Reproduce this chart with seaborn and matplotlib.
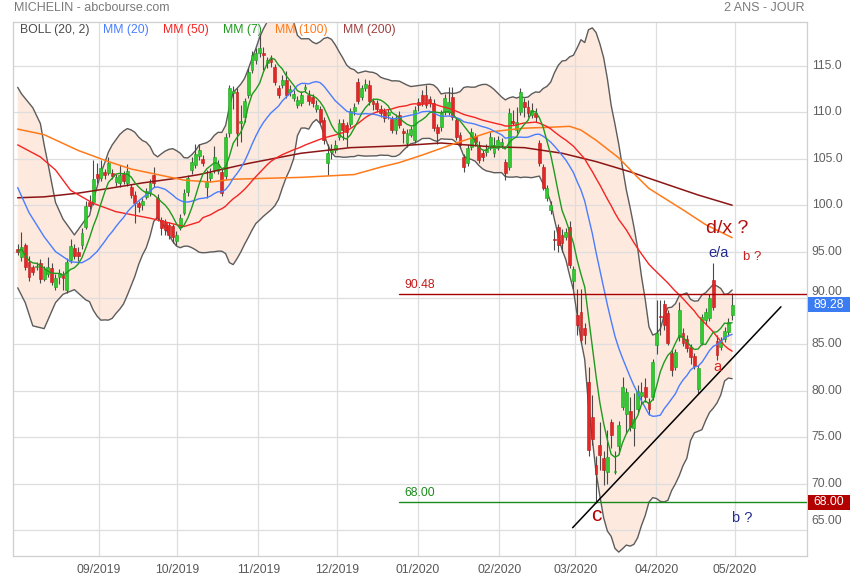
import numpy as np
import pandas as pd
import matplotlib
matplotlib.use("Agg")
import matplotlib.pyplot as plt
import matplotlib.transforms as mtransforms
from matplotlib.patches import Rectangle
import seaborn as sns

# Cours journaliers MICHELIN du 01/08/2019 au 30/04/2020
ouverture = [95.3, 94.4, 95.7, 93.9, 93.3, 93.3, 93.8, 92.1, 92.6, 93.2,
             91.2, 92.3, 92.5, 90.9, 94.1, 95.4, 95.0, 95.7, 97.7, 100.3,
             100.3, 103.4, 102.9, 103.6, 103.5, 103.5, 102.5, 102.4, 103.4, 102.4,
             102.0, 101.1, 100.2, 100.0, 100.9, 101.3, 103.3, 100.8, 98.4, 98.2,
             97.9, 97.8, 96.1, 97.6, 99.2, 101.4, 103.8, 104.3, 105.3, 105.0,
             102.0, 102.9, 103.8, 103.7, 103.6, 103.1, 107.8, 112.1, 112.2, 108.9,
             109.5, 111.9, 114.6, 115.6, 116.4, 116.4, 115.3, 115.8, 114.9, 112.6,
             113.0, 113.5, 112.2, 111.5, 110.8, 111.0, 112.5, 111.9, 111.7, 110.4,
             110.4, 109.2, 104.5, 105.7, 106.0, 107.4, 108.9, 108.6, 108.8, 110.1,
             113.3, 111.7, 112.6, 113.0, 111.2, 111.0, 110.4, 110.1, 109.7, 109.3,
             108.1, 109.7, 108.0, 106.7, 107.6, 107.0, 111.1, 111.9, 111.9, 111.4,
             111.0, 108.4, 108.4, 110.0, 110.0, 111.7, 109.2, 107.6, 105.2, 104.6,
             106.3, 107.5, 106.5, 105.6, 105.7, 106.2, 105.6, 106.2, 106.5, 104.7,
             104.1, 109.1, 108.1, 110.0, 111.1, 110.6, 109.7, 109.9, 106.7, 104.1,
             100.8, 99.5, 96.4, 97.7, 96.8, 96.6, 97.7, 91.8, 88.2, 88.5,
             86.8, 81.0, 77.2, 72.0, 74.2, 72.8, 71.3, 76.6, 71.2, 74.0,
             78.3, 77.5, 77.8, 76.0, 78.0, 79.4, 80.4, 78.8, 79.3, 84.9,
             88.1, 89.4, 88.4, 84.1, 82.6, 85.8, 86.2, 85.6, 84.7, 83.8,
             80.2, 85.2, 87.6, 87.8, 91.9, 85.4, 84.7, 85.6, 86.3, 88.2]
plus_haut = [95.8, 97.1, 95.9, 94.5, 93.6, 93.9, 94.2, 93.5, 94.4, 93.8,
             92.6, 93.1, 92.9, 94.3, 96.4, 95.8, 95.5, 97.5, 100.4, 101.1,
             104.9, 104.5, 104.9, 103.9, 105.2, 103.9, 103.4, 104.3, 103.7, 104.4,
             102.3, 101.5, 100.5, 100.8, 101.9, 102.8, 104.1, 101.2, 98.7, 98.5,
             98.2, 98.0, 97.2, 99.0, 101.7, 103.3, 105.2, 106.6, 106.6, 105.4,
             103.8, 104.0, 106.4, 104.9, 103.9, 107.8, 113.0, 112.8, 112.6, 110.8,
             111.6, 114.8, 116.6, 116.9, 118.5, 117.0, 116.0, 116.2, 115.2, 113.0,
             114.0, 114.5, 112.9, 112.4, 111.8, 112.3, 113.1, 112.4, 112.0, 111.3,
             110.7, 109.5, 106.6, 106.6, 107.0, 109.3, 109.3, 109.0, 110.5, 111.0,
             113.7, 113.0, 113.6, 113.5, 111.5, 111.3, 110.8, 110.5, 110.4, 109.6,
             109.8, 110.1, 108.3, 108.2, 108.5, 110.7, 111.5, 112.4, 113.0, 111.8,
             111.4, 108.7, 110.3, 112.0, 112.7, 112.7, 109.5, 107.9, 105.5, 106.6,
             108.3, 107.8, 106.9, 106.0, 106.6, 107.9, 107.3, 107.5, 107.2, 105.0,
             110.5, 110.3, 110.6, 112.6, 111.5, 111.3, 111.0, 110.5, 107.0, 104.4,
             102.2, 100.5, 97.3, 98.0, 97.4, 97.5, 98.3, 93.5, 91.0, 91.0,
             87.3, 82.6, 79.5, 73.0, 76.6, 73.5, 75.8, 77.0, 73.5, 76.7,
             81.5, 80.3, 79.3, 79.8, 80.6, 80.9, 81.4, 79.2, 83.4, 89.8,
             89.8, 89.8, 88.7, 84.4, 84.5, 89.6, 86.8, 86.0, 85.0, 84.1,
             82.8, 88.3, 88.9, 90.4, 93.8, 86.0, 85.8, 86.9, 87.8, 90.5]
plus_bas = [94.6, 94.0, 93.0, 91.8, 92.5, 93.0, 91.6, 91.8, 92.3, 91.4,
            90.9, 91.5, 90.9, 90.5, 93.8, 94.2, 94.0, 95.3, 97.4, 99.6,
            100.0, 102.4, 102.6, 102.8, 103.2, 102.8, 102.1, 102.0, 102.3, 102.1,
            100.8, 98.1, 99.3, 99.5, 100.7, 101.0, 102.0, 98.3, 96.8, 96.8,
            96.4, 95.9, 95.7, 97.3, 98.9, 101.0, 103.4, 104.0, 104.9, 104.2,
            100.8, 102.5, 103.5, 103.4, 101.0, 102.8, 107.4, 110.4, 106.4, 106.8,
            109.0, 111.5, 114.2, 115.2, 116.0, 114.6, 114.8, 114.9, 112.9, 111.5,
            112.6, 111.5, 111.8, 111.2, 110.5, 110.7, 112.2, 110.8, 110.6, 110.0,
            108.7, 106.6, 103.3, 105.0, 105.6, 107.0, 107.0, 106.3, 108.4, 109.7,
            110.9, 111.3, 112.3, 110.8, 110.3, 110.0, 109.5, 109.0, 109.3, 107.8,
            107.7, 108.3, 106.7, 106.3, 107.3, 106.7, 110.2, 110.7, 110.5, 110.6,
            108.0, 106.6, 108.0, 109.7, 109.7, 109.2, 107.0, 106.2, 103.6, 104.2,
            106.0, 106.4, 104.5, 104.8, 105.3, 105.9, 105.2, 105.9, 106.2, 102.7,
            103.8, 108.6, 107.8, 109.7, 109.5, 109.5, 109.4, 109.0, 104.2, 101.6,
            100.4, 99.0, 95.2, 95.0, 95.0, 96.2, 93.2, 91.0, 86.0, 85.2,
            85.0, 73.0, 74.2, 67.9, 71.5, 69.8, 70.0, 73.8, 71.0, 73.2,
            77.9, 75.5, 75.7, 74.0, 77.5, 78.6, 78.8, 77.4, 79.0, 84.0,
            86.0, 86.5, 84.9, 81.6, 82.2, 85.4, 84.8, 84.2, 82.9, 82.3,
            79.8, 84.9, 87.2, 87.5, 88.7, 83.3, 84.4, 85.3, 85.9, 87.6]
cloture = [95.0, 95.5, 93.3, 92.3, 92.8, 93.5, 92.0, 93.1, 93.3, 91.7,
           92.2, 92.7, 92.2, 93.9, 95.6, 94.5, 94.5, 97.0, 99.9, 99.9,
           102.8, 102.9, 104.0, 103.2, 104.5, 103.1, 103.0, 103.3, 102.6, 103.7,
           101.1, 100.2, 99.8, 100.4, 101.5, 102.4, 102.4, 98.6, 97.5, 97.3,
           96.8, 96.6, 96.8, 98.6, 101.3, 102.9, 104.7, 105.5, 106.0, 104.5,
           102.5, 103.5, 105.2, 104.4, 101.3, 107.4, 112.6, 112.3, 107.8, 109.1,
           111.2, 114.4, 116.2, 116.4, 116.9, 116.2, 115.6, 115.4, 113.3, 111.9,
           113.5, 111.9, 112.5, 112.0, 111.3, 111.9, 112.7, 111.2, 111.0, 110.8,
           109.0, 107.0, 105.6, 105.9, 106.5, 108.9, 108.1, 107.9, 110.1, 110.6,
           111.2, 112.6, 113.1, 111.2, 110.9, 110.4, 109.9, 109.4, 110.0, 108.1,
           109.3, 108.6, 107.8, 107.8, 108.2, 110.3, 110.8, 111.0, 110.8, 111.0,
           108.3, 107.8, 109.9, 111.6, 111.1, 109.5, 107.3, 106.5, 104.1, 106.2,
           107.9, 106.8, 104.9, 105.2, 106.1, 107.3, 106.5, 107.0, 106.8, 103.5,
           109.9, 108.9, 109.0, 112.2, 110.6, 109.9, 110.3, 109.5, 104.5, 101.9,
           101.9, 100.0, 96.2, 95.7, 95.9, 97.1, 93.6, 93.1, 87.1, 85.5,
           86.0, 73.6, 74.8, 71.0, 73.1, 71.5, 72.9, 75.2, 71.4, 76.3,
           80.4, 79.9, 76.1, 77.0, 80.0, 79.9, 79.3, 78.0, 83.1, 86.2,
           87.9, 87.1, 85.2, 82.2, 84.2, 88.7, 85.2, 84.6, 83.6, 82.7,
           82.5, 87.9, 88.5, 90.0, 89.0, 83.9, 85.4, 86.4, 87.4, 89.28]

# debut des indicateurs, avant que la fenetre de calcul soit remplie
debut_mm20_jours = [0, 3, 7, 10, 14, 17]
debut_mm20 = [101.9, 99.2, 96.6, 95.0, 93.9, 93.8]
debut_haut_jours = [0, 1, 4, 6, 7, 8, 10, 12, 15, 18]
debut_haut = [112.7, 112.0, 110.5, 108.8, 106.5, 104.5, 100.3, 98.5, 96.8, 98.5]
debut_bas_jours = [0, 2, 4, 7, 10, 12, 15, 18]
debut_bas = [91.1, 89.5, 87.0, 86.7, 89.5, 90.4, 90.9, 89.8]
debut_mm50_jours = [0, 6, 10, 14, 20, 26, 35, 44, 48]
debut_mm50 = [106.5, 105.2, 103.8, 101.6, 100.2, 99.3, 98.6, 97.7, 98.2]

# moyennes longues
mm100_jours = [0, 7, 16, 24, 30, 37, 44, 51, 57, 75, 89, 96, 101, 107, 116,
               125, 134, 141, 146, 149, 153, 159, 164, 167, 176, 182, 189]
mm100 = [108.2, 107.6, 105.9, 104.7, 103.9, 103.3, 102.7, 102.5, 102.8, 103.0,
         103.3, 104.1, 104.6, 105.4, 106.7, 107.9, 108.3, 108.4, 108.5, 108.1,
         107.0, 105.1, 103.0, 101.8, 99.5, 97.9, 96.5]
mm200_jours = [0, 7, 16, 24, 33, 42, 48, 61, 75, 88, 101, 112, 125, 134, 144,
               153, 162, 167, 180, 189]
mm200 = [100.8, 100.9, 101.3, 101.8, 102.4, 102.9, 103.3, 104.5, 105.6, 106.2,
         106.4, 106.7, 106.3, 106.2, 105.6, 104.7, 103.6, 102.9, 101.1, 100.0]

premier_jour = "2019-08-01"
dernier_jour = "2020-04-30"
mois_labels = ["09/2019", "10/2019", "11/2019", "12/2019", "01/2020",
               "02/2020", "03/2020", "04/2020", "05/2020"]
mois_dates = ["2019-09-01", "2019-10-01", "2019-11-01", "2019-12-01", "2020-01-01",
              "2020-02-01", "2020-03-01", "2020-04-01", "2020-05-01"]
y_ticks = [65, 70, 75, 80, 85, 90, 95, 100, 105, 110, 115]
y_labels = ["65.00", "70.00", "75.00", "80.00", "85.00", "90.00", "95.00",
            "100.0", "105.0", "110.0", "115.0"]

# niveaux traces et oblique de support
resistance = 90.48
support = 68.00
debut_niveaux = 101
oblique_jours = [146.8, 201.9]
oblique_cours = [65.25, 89.05]

# couleurs
c_vert, c_rouge = "#2ecc2e", "#e32626"
c_mm7, c_mm20, c_mm50 = "#1f9a1f", "#4a7dff", "#f52424"
c_mm100, c_mm200 = "#ff7a1a", "#8b1515"

df = pd.DataFrame({"o": ouverture, "h": plus_haut, "l": plus_bas, "c": cloture})
df["jour"] = np.arange(len(df))
r20 = df["c"].rolling(20)
df["mm20"] = r20.mean()
df["haut"] = df["mm20"] + 2 * r20.std(ddof=0)
df["bas"] = df["mm20"] - 2 * r20.std(ddof=0)
df["mm50"] = df["c"].rolling(50).mean()
df["mm7"] = df["c"].rolling(7, min_periods=1).mean()


def serie(jours, valeurs, col):
    calc = df.dropna(subset=[col])
    return pd.DataFrame({"jour": list(jours) + list(calc["jour"]),
                         "v": list(valeurs) + list(calc[col])})


s_haut = serie(debut_haut_jours, debut_haut, "haut")
s_bas = serie(debut_bas_jours, debut_bas, "bas")
s_mm20 = serie(debut_mm20_jours, debut_mm20, "mm20")
s_mm50 = serie(debut_mm50_jours, debut_mm50, "mm50")

sns.set_theme(style="white")
plt.rcParams["font.family"] = ["Liberation Sans", "DejaVu Sans"]

fig = plt.figure(figsize=(8.55, 5.8), dpi=100)
ax = fig.add_axes([13 / 855, 24 / 580, 794 / 855, 534 / 580])
ax.set_xlim(-1.24, 208.8)
ax.set_ylim(62.2, 119.74)

# bandes de Bollinger
ax.fill(list(s_haut["jour"]) + list(s_bas["jour"])[::-1],
        list(s_haut["v"]) + list(s_bas["v"])[::-1],
        color="#fde9dd", lw=0, zorder=1)

# quadrillage
d0, d1 = pd.Timestamp(premier_jour), pd.Timestamp(dernier_jour)
pos_mois = [(pd.Timestamp(d) - d0).days / (d1 - d0).days * (len(df) - 1) for d in mois_dates]
for p in pos_mois:
    ax.axvline(p, color="#dedede", lw=0.9, zorder=1.5)
for t in y_ticks:
    ax.axhline(t, color="#dedede", lw=0.9, zorder=1.5)

sns.lineplot(data=s_haut, x="jour", y="v", ax=ax, color="#5c5c5c", lw=1, zorder=2)
sns.lineplot(data=s_bas, x="jour", y="v", ax=ax, color="#5c5c5c", lw=1, zorder=2)

# chandeliers
hausse = df["c"] >= df["o"]
ax.vlines(df["jour"], df["l"], df["h"], color="#4a4a4a", lw=0.8, zorder=3)
ax.bar(df["jour"], (df["c"] - df["o"]).abs().clip(lower=0.12),
       bottom=df[["o", "c"]].min(axis=1), width=0.76,
       color=np.where(hausse, c_vert, c_rouge),
       edgecolor=np.where(hausse, "#1c9c1c", "#b81a1a"), lw=0.4, zorder=4)

# moyennes mobiles
sns.lineplot(x=mm200_jours, y=mm200, ax=ax, color=c_mm200, lw=1.1, zorder=5)
sns.lineplot(x=mm100_jours, y=mm100, ax=ax, color=c_mm100, lw=1.1, zorder=5)
sns.lineplot(data=s_mm50, x="jour", y="v", ax=ax, color=c_mm50, lw=1, zorder=5)
sns.lineplot(data=s_mm20, x="jour", y="v", ax=ax, color=c_mm20, lw=1, zorder=5)
sns.lineplot(data=df, x="jour", y="mm7", ax=ax, color=c_mm7, lw=1, zorder=5)

# niveaux horizontaux et oblique
x_fin = ax.get_xlim()[1]
ax.plot([debut_niveaux, x_fin], [resistance, resistance], color="#a80000", lw=1, zorder=6)
ax.plot([debut_niveaux, x_fin], [support, support], color="#1a8a1a", lw=1, zorder=6)
ax.plot(oblique_jours, oblique_cours, color="black", lw=1.1, zorder=6)
ax.text(debut_niveaux + 1.2, resistance + 0.3, f"{resistance:.2f}", color="#c41a1a",
        fontsize=8.8, va="bottom", ha="left", zorder=7)
ax.text(debut_niveaux + 1.2, support + 0.3, f"{support:.2f}", color="#1a8a1a",
        fontsize=8.8, va="bottom", ha="left", zorder=7)

# annotations de vagues
ax.text(153, 66.6, "c", color="#b00000", fontsize=15, ha="center", va="center", zorder=7)
ax.text(185, 82.6, "a", color="#e02020", fontsize=10.5, ha="center", va="center", zorder=7)
ax.text(185.5, 94.9, "e/a", color="#1f2a8c", fontsize=10.5, ha="center", va="center", zorder=7)
ax.text(187.8, 97.5, "d/x ?", color="#b01010", fontsize=14, ha="center", va="center", zorder=7)
ax.text(194.3, 94.4, "b ?", color="#c42020", fontsize=9.5, ha="center", va="center", zorder=7)
ax.text(191.6, 66.3, "b ?", color="#1f2a8c", fontsize=10.5, ha="center", va="center", zorder=7)

# axes
ax.set_xticks(pos_mois)
ax.set_xticklabels(mois_labels)
ax.set_yticks([])
ax.tick_params(axis="x", length=0, labelsize=8.8, labelcolor="#585858", pad=6)
ax.set_xlabel("")
ax.set_ylabel("")
for sp in ax.spines.values():
    sp.set_color("#cfcfcf")
    sp.set_linewidth(0.9)

trans = mtransforms.blended_transform_factory(ax.transAxes, ax.transData)
# graduations de droite (90 et 65 decalees pour laisser la place aux etiquettes de prix)
decalage = {90: 0.65, 65: 1.0}
for t, lab in zip(y_ticks, y_labels):
    ax.text(1.006, t + decalage.get(t, 0), lab, transform=trans, color="#606060",
            fontsize=8.8, va="center", ha="left", clip_on=False)

# etiquettes de prix a droite
for val, fond in [(cloture[-1], "#3b7cf2"), (support, "#b30000")]:
    ax.add_patch(Rectangle((1.0013, val - 0.82), 0.053, 1.64, transform=trans,
                           fc=fond, ec="none", clip_on=False, zorder=8))
    ax.text(1.0275, val, f"{val:.2f}", transform=trans, color="white",
            fontsize=8.8, va="center", ha="center", zorder=9, clip_on=False)

# titres et legende
fig.text(14 / 855, 1 - 8 / 580, "MICHELIN - abcbourse.com", color="#7a7a7a",
         fontsize=9, va="center", ha="left")
fig.text(805 / 855, 1 - 8 / 580, "2 ANS - JOUR", color="#7a7a7a",
         fontsize=9, va="center", ha="right")
legende = [("BOLL (20, 2)", "#4a4a4a", 20), ("MM (20)", c_mm20, 103),
           ("MM (50)", c_mm50, 163), ("MM (7)", c_mm7, 223),
           ("MM (100)", c_mm100, 275), ("MM (200)", "#a04040", 343)]
for nom, coul, xp in legende:
    fig.text(xp / 855, 1 - 30 / 580, nom, color=coul, fontsize=8.8, va="center", ha="left")

fig.savefig("out.png", dpi=100)
